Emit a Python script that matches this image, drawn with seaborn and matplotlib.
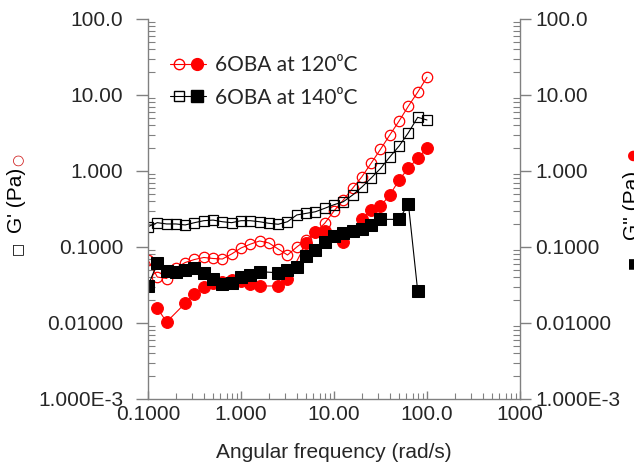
import numpy as np
import pandas as pd
import matplotlib
matplotlib.use("Agg")
import matplotlib.pyplot as plt
import matplotlib.ticker as mticker
from matplotlib.lines import Line2D
from matplotlib.legend_handler import HandlerTuple
import seaborn as sns

# angular frequency sweep (rad/s), 10 points per decade
freq = [0.1, 0.1259, 0.1585, 0.1995, 0.2512, 0.3162, 0.3981, 0.5012, 0.6310, 0.7943,
        1.0, 1.259, 1.585, 1.995, 2.512, 3.162, 3.981, 5.012, 6.310, 7.943,
        10.0, 12.59, 15.85, 19.95, 25.12, 31.62, 39.81, 50.12, 63.10, 79.43, 100.0]
nan = np.nan

# 6OBA at 120 C, open circles
g1_120 = [0.0675, 0.0403, 0.0385, 0.053, 0.0625, 0.0685, 0.0728, 0.0706, 0.0695, 0.081,
          0.097, 0.109, 0.120, 0.113, 0.094, 0.0785, 0.100, 0.124, 0.157, 0.205,
          0.298, 0.415, 0.592, 0.841, 1.27, 1.93, 2.98, 4.55, 7.16, 10.9, 17.1]
# 6OBA at 120 C, filled circles
g2_120 = [nan, 0.0157, 0.0103, nan, 0.0182, 0.0241, 0.0298, 0.0336, 0.0346, 0.0373,
          0.0357, 0.0326, 0.0307, nan, 0.0307, 0.0379, nan, 0.112, 0.157, 0.163,
          nan, 0.117, nan, 0.231, 0.307, 0.346, 0.483, 0.762, 1.09, 1.47, 1.99]
# 6OBA at 140 C, open squares
g1_140 = [0.185, 0.209, 0.201, 0.201, 0.195, 0.209, 0.222, 0.226, 0.215, 0.209,
          0.222, 0.222, 0.215, 0.205, 0.199, 0.215, 0.264, 0.277, 0.291, 0.323,
          0.36, 0.394, 0.483, 0.615, 0.809, 1.08, 1.53, 2.13, 3.19, 5.09, 4.69]
# 6OBA at 140 C, filled squares
g2_140 = [0.0307, 0.0615, 0.0483, 0.0469, 0.0498, 0.0529, 0.0455, 0.0379, 0.0326, 0.0336,
          0.0403, 0.0428, 0.0473, nan, 0.0459, 0.0498, 0.0553, 0.0762, 0.0914, 0.117,
          0.140, 0.153, 0.163, 0.173, 0.195, 0.231, nan, 0.231, 0.368, 0.0264, nan]

legend_labels = ["6OBA at 120\u2070C", "6OBA at 140\u2070C"]
x_ticks = [0.1, 1, 10, 100, 1000]
x_ticklabels = ["0.1000", "1.000", "10.00", "100.0", "1000"]
y_ticks = [1e-3, 1e-2, 1e-1, 1, 10, 100]
y_ticklabels = ["1.000E-3", "0.01000", "0.1000", "1.000", "10.00", "100.0"]

df = pd.DataFrame({"freq": freq, "g1_120": g1_120, "g2_120": g2_120,
                   "g1_140": g1_140, "g2_140": g2_140})

sns.set_style("white")
plt.rcParams["font.family"] = ["Liberation Sans", "DejaVu Sans"]
axis_grey = "#808080"

fig = plt.figure(figsize=(6.34, 4.70), dpi=100)
ax = fig.add_axes([148 / 634, 71 / 470, 372 / 634, 380 / 470])

styles = [
    ("g1_120", dict(color="red", marker="o", mfc="none", mec="red", ms=7.5, mew=0.9)),
    ("g1_140", dict(color="black", marker="s", mfc="none", mec="black", ms=7.5, mew=0.9)),
    ("g2_120", dict(color="red", marker="o", mfc="red", mec="red", ms=8.5)),
    ("g2_140", dict(color="black", marker="s", mfc="black", mec="black", ms=8)),
]
for col, kw in styles:
    sub = df[["freq", col]].dropna()
    sns.lineplot(data=sub, x="freq", y=col, ax=ax, lw=0.8, legend=False, **kw)

ax.set_xscale("log")
ax.set_yscale("log")
ax.set_xlim(0.1, 1000)
ax.set_ylim(1e-3, 100)
ax.set_xlabel("Angular frequency (rad/s)", fontsize=15, labelpad=14)
ax.set_ylabel("")

ax.xaxis.set_major_locator(mticker.FixedLocator(x_ticks))
ax.xaxis.set_major_formatter(mticker.FixedFormatter(x_ticklabels))
ax.yaxis.set_major_locator(mticker.FixedLocator(y_ticks))
ax.yaxis.set_major_formatter(mticker.FixedFormatter(y_ticklabels))
ax.xaxis.set_minor_locator(mticker.LogLocator(base=10, subs=np.arange(2, 10), numticks=20))
ax.yaxis.set_minor_locator(mticker.LogLocator(base=10, subs=np.arange(2, 10), numticks=20))
ax.xaxis.set_minor_formatter(mticker.NullFormatter())
ax.yaxis.set_minor_formatter(mticker.NullFormatter())

for side in ["left", "right", "bottom"]:
    ax.spines[side].set_color(axis_grey)
    ax.spines[side].set_linewidth(1.0)
ax.spines["top"].set_visible(False)

ax.tick_params(axis="x", which="major", direction="in", length=6, width=1,
               color=axis_grey, labelsize=15, pad=4, bottom=True)
ax.tick_params(axis="x", which="minor", direction="in", length=4, width=0.8,
               color=axis_grey, bottom=True)
ax.tick_params(axis="y", which="major", direction="out", length=9, width=1,
               color=axis_grey, labelsize=15, pad=9, left=True)
ax.tick_params(axis="y", which="minor", direction="in", length=5, width=0.8,
               color=axis_grey, left=True)

# right axis mirrors the left one
ax2 = ax.twinx()
ax2.set_yscale("log")
ax2.set_ylim(1e-3, 100)
ax2.yaxis.set_major_locator(mticker.FixedLocator(y_ticks))
ax2.yaxis.set_major_formatter(mticker.FixedFormatter(y_ticklabels))
ax2.yaxis.set_minor_locator(mticker.LogLocator(base=10, subs=np.arange(2, 10), numticks=20))
ax2.yaxis.set_minor_formatter(mticker.NullFormatter())
for s in ax2.spines.values():
    s.set_visible(False)
ax2.tick_params(axis="y", which="major", direction="out", length=8, width=1,
                color=axis_grey, labelsize=15, pad=3, right=True)
ax2.tick_params(axis="y", which="minor", direction="in", length=5, width=0.8,
                color=axis_grey, right=True)

# legend: open marker - line - filled marker
h = [
    (Line2D([], [], color="red", marker="o", mfc="none", ms=7.5, lw=0.8),
     Line2D([], [], color="red", marker="o", ms=8.5, lw=0.8)),
    (Line2D([], [], color="black", marker="s", mfc="none", ms=7.5, lw=0.8),
     Line2D([], [], color="black", marker="s", ms=8, lw=0.8)),
]
ax.legend(h, legend_labels, handler_map={tuple: HandlerTuple(ndivide=None, pad=0)},
          loc="upper left", bbox_to_anchor=(0.06, 0.905), frameon=False,
          borderaxespad=0, borderpad=0, handlelength=1.7, handletextpad=0.45,
          labelspacing=0.6, prop={"family": ["Lato", "DejaVu Sans"], "size": 15})

# axis titles built from pieces so symbols can be coloured
lx = 17 / 634
fig.text(lx, 1 - 248 / 470, "\u25a1", rotation=90, ha="center", va="center",
         fontsize=10, family=["DejaVu Sans"], color="black")
fig.text(lx, 1 - 200 / 470, "G' (Pa)", rotation=90, ha="center", va="center",
         fontsize=15, color="black")
fig.text(lx, 1 - 160 / 470, "\u25cb", rotation=90, ha="center", va="center",
         fontsize=10, family=["DejaVu Sans"], color="#d02020")

# right-hand title runs off the edge, as in the source figure
rx = 633 / 634
fig.text(rx, 1 - 262 / 470, "\u25a0", rotation=90, ha="center", va="center",
         fontsize=10, family=["DejaVu Sans"], color="black")
fig.text(rx, 1 - 205 / 470, "G'' (Pa)", rotation=90, ha="center", va="center",
         fontsize=15, color="black")
fig.text(rx, 1 - 155 / 470, "\u25cf", rotation=90, ha="center", va="center",
         fontsize=10, family=["DejaVu Sans"], color="red")

fig.savefig("out.png", dpi=100)
